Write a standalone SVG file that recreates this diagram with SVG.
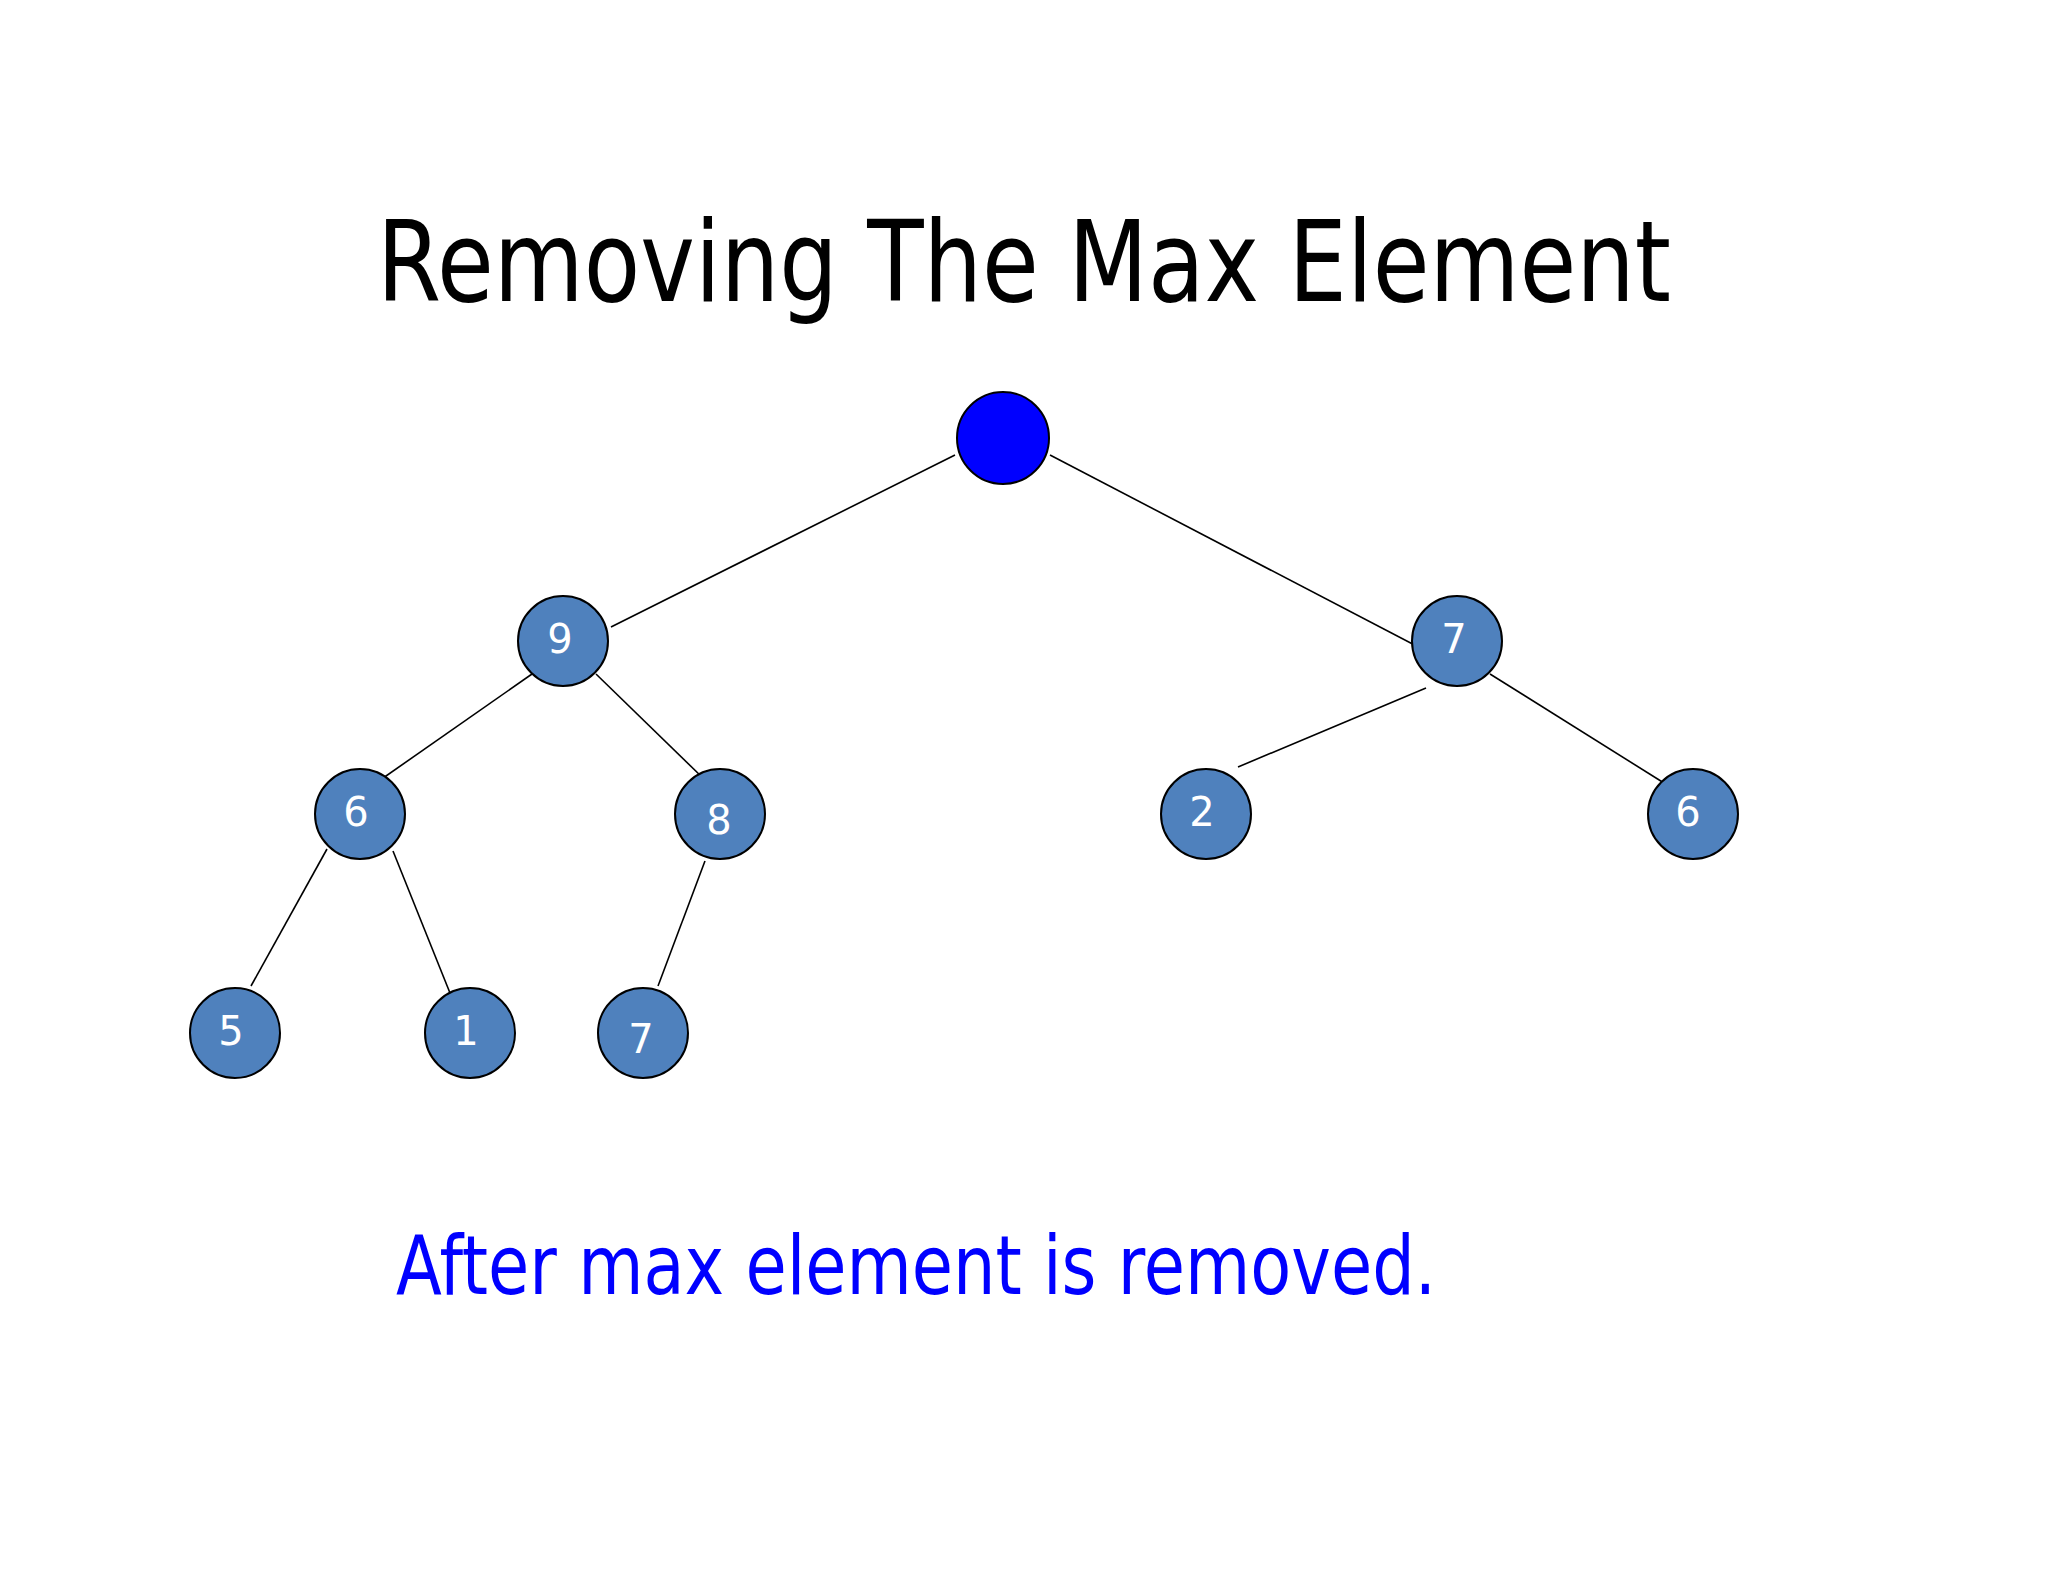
<svg xmlns="http://www.w3.org/2000/svg" width="2048" height="1582" viewBox="0 0 2048 1582">
<style>
.n{fill:#4F81BD;stroke:#000;stroke-width:2}
.t{fill:#fff;font-family:"DejaVu Sans","Liberation Sans",sans-serif;font-size:40px;text-anchor:middle}
.e{stroke:#000;stroke-width:1.6}
</style>
<rect width="2048" height="1582" fill="#fff"/>
<text x="1024" y="301" font-family="DejaVu Sans, Liberation Sans, sans-serif" font-size="112" text-anchor="middle" textLength="1294" lengthAdjust="spacingAndGlyphs">Removing The Max Element</text>
<g id="edges">
<line class="e" x1="955" y1="455" x2="611" y2="627"/>
<line class="e" x1="1050" y1="455" x2="1426" y2="651"/>
<line class="e" x1="532" y1="674" x2="376" y2="783"/>
<line class="e" x1="596" y1="674" x2="705" y2="780"/>
<line class="e" x1="1426" y1="688" x2="1238" y2="767"/>
<line class="e" x1="1490" y1="674" x2="1664" y2="783"/>
<line class="e" x1="327" y1="849" x2="251" y2="986"/>
<line class="e" x1="393" y1="851" x2="454" y2="1003"/>
<line class="e" x1="705" y1="861" x2="658" y2="986"/>
</g>
<g id="root"><circle cx="1003" cy="438" r="46" fill="#0000FF" stroke="#000" stroke-width="2"/></g>
<g id="n9"><circle class="n" cx="563" cy="641" r="45"/><text class="t" x="560" y="653">9</text></g>
<g id="n7"><circle class="n" cx="1457" cy="641" r="45"/><text class="t" x="1454" y="653">7</text></g>
<g id="n6"><circle class="n" cx="360" cy="814" r="45"/><text class="t" x="356" y="826">6</text></g>
<g id="n8"><circle class="n" cx="720" cy="814" r="45"/><text class="t" x="719" y="834">8</text></g>
<g id="n2"><circle class="n" cx="1206" cy="814" r="45"/><text class="t" x="1202" y="826">2</text></g>
<g id="n6b"><circle class="n" cx="1693" cy="814" r="45"/><text class="t" x="1688" y="826">6</text></g>
<g id="n5"><circle class="n" cx="235" cy="1033" r="45"/><text class="t" x="231" y="1045">5</text></g>
<g id="n1"><circle class="n" cx="470" cy="1033" r="45"/><text class="t" x="466" y="1045">1</text></g>
<g id="n7b"><circle class="n" cx="643" cy="1033" r="45"/><text class="t" x="641" y="1053">7</text></g>
<text x="396" y="1294" fill="#0000FF" font-family="DejaVu Sans, Liberation Sans, sans-serif" font-size="82" textLength="1040" lengthAdjust="spacingAndGlyphs">After max element is removed.</text>
</svg>
